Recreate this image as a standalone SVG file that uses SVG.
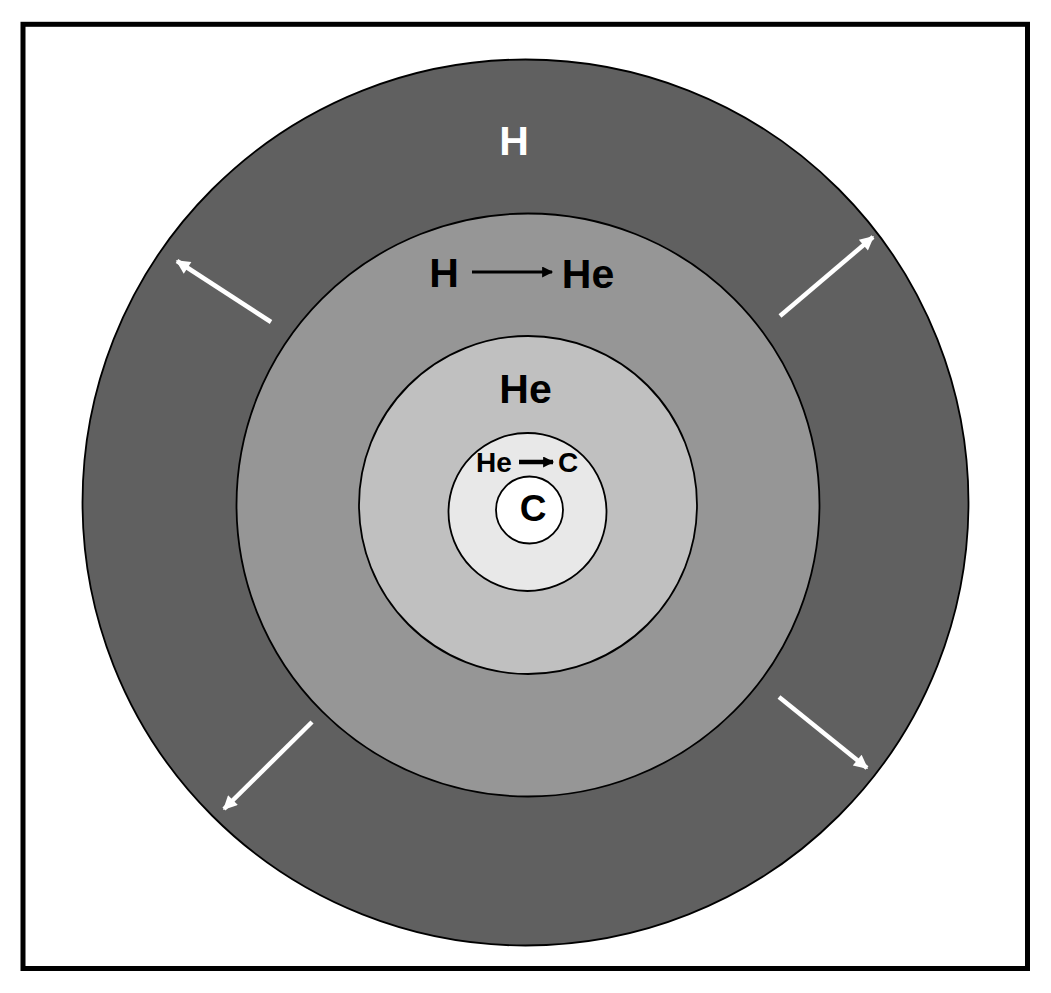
<svg xmlns="http://www.w3.org/2000/svg" width="1051" height="993" viewBox="0 0 1051 993">
<style>
.ring{stroke:#000;stroke-width:1.8}
.t{font-family:"Liberation Sans",Arial,sans-serif;font-weight:bold;text-anchor:middle}
.wa{stroke:#fff;stroke-width:4.5;fill:none}
.ba{stroke:#000;fill:none}
</style>
<defs>
<marker id="wh" viewBox="0 0 10 10" refX="9" refY="5" markerUnits="userSpaceOnUse" markerWidth="16" markerHeight="14" orient="auto">
<path d="M0,0 L10,5 L0,10 Z" fill="#fff"/>
</marker>
<marker id="bh" viewBox="0 0 10 10" refX="9" refY="5" markerUnits="userSpaceOnUse" markerWidth="13" markerHeight="11" orient="auto">
<path d="M0,0 L10,5 L0,10 Z" fill="#000"/>
</marker>
</defs>
<rect x="0" y="0" width="1051" height="993" fill="#fff"/>
<rect id="frame" x="23" y="24.3" width="1004.5" height="944.2" fill="none" stroke="#000" stroke-width="5"/>
<g id="shell-outer"><circle class="ring" cx="525.5" cy="502.5" r="443" fill="#606060"/></g>
<g id="shell-h-burning"><circle class="ring" cx="528" cy="505" r="291.5" fill="#969696"/></g>
<g id="shell-he"><circle class="ring" cx="528" cy="505" r="169" fill="#c0c0c0"/></g>
<g id="shell-he-burning"><circle class="ring" cx="527.5" cy="512" r="79" fill="#e8e8e8"/></g>
<g id="core"><circle class="ring" cx="529.5" cy="510" r="33.5" fill="#fff"/></g>
<g id="labels">
<text class="t" x="514" y="155" font-size="41" fill="#fff">H</text>
<text class="t" x="444" y="287" font-size="41" fill="#000">H</text>
<text class="t" x="588" y="288" font-size="41" fill="#000">He</text>
<text class="t" x="525.5" y="403" font-size="41" fill="#000">He</text>
<text class="t" x="494" y="472" font-size="28" fill="#000">He</text>
<text class="t" x="568" y="472" font-size="28" fill="#000">C</text>
<text class="t" x="533" y="521" font-size="37" fill="#000">C</text>
</g>
<g id="connectors">
<line class="ba" x1="472" y1="272" x2="552" y2="272" stroke-width="3.2" marker-end="url(#bh)"/>
<line class="ba" x1="519" y1="462" x2="553" y2="462" stroke-width="4.5" marker-end="url(#bh)"/>
<line class="wa" x1="271" y1="322" x2="177" y2="261" marker-end="url(#wh)"/>
<line class="wa" x1="780" y1="316" x2="873" y2="237" marker-end="url(#wh)"/>
<line class="wa" x1="312" y1="722" x2="224" y2="809" marker-end="url(#wh)"/>
<line class="wa" x1="779" y1="697" x2="867" y2="768" marker-end="url(#wh)"/>
</g>
</svg>
